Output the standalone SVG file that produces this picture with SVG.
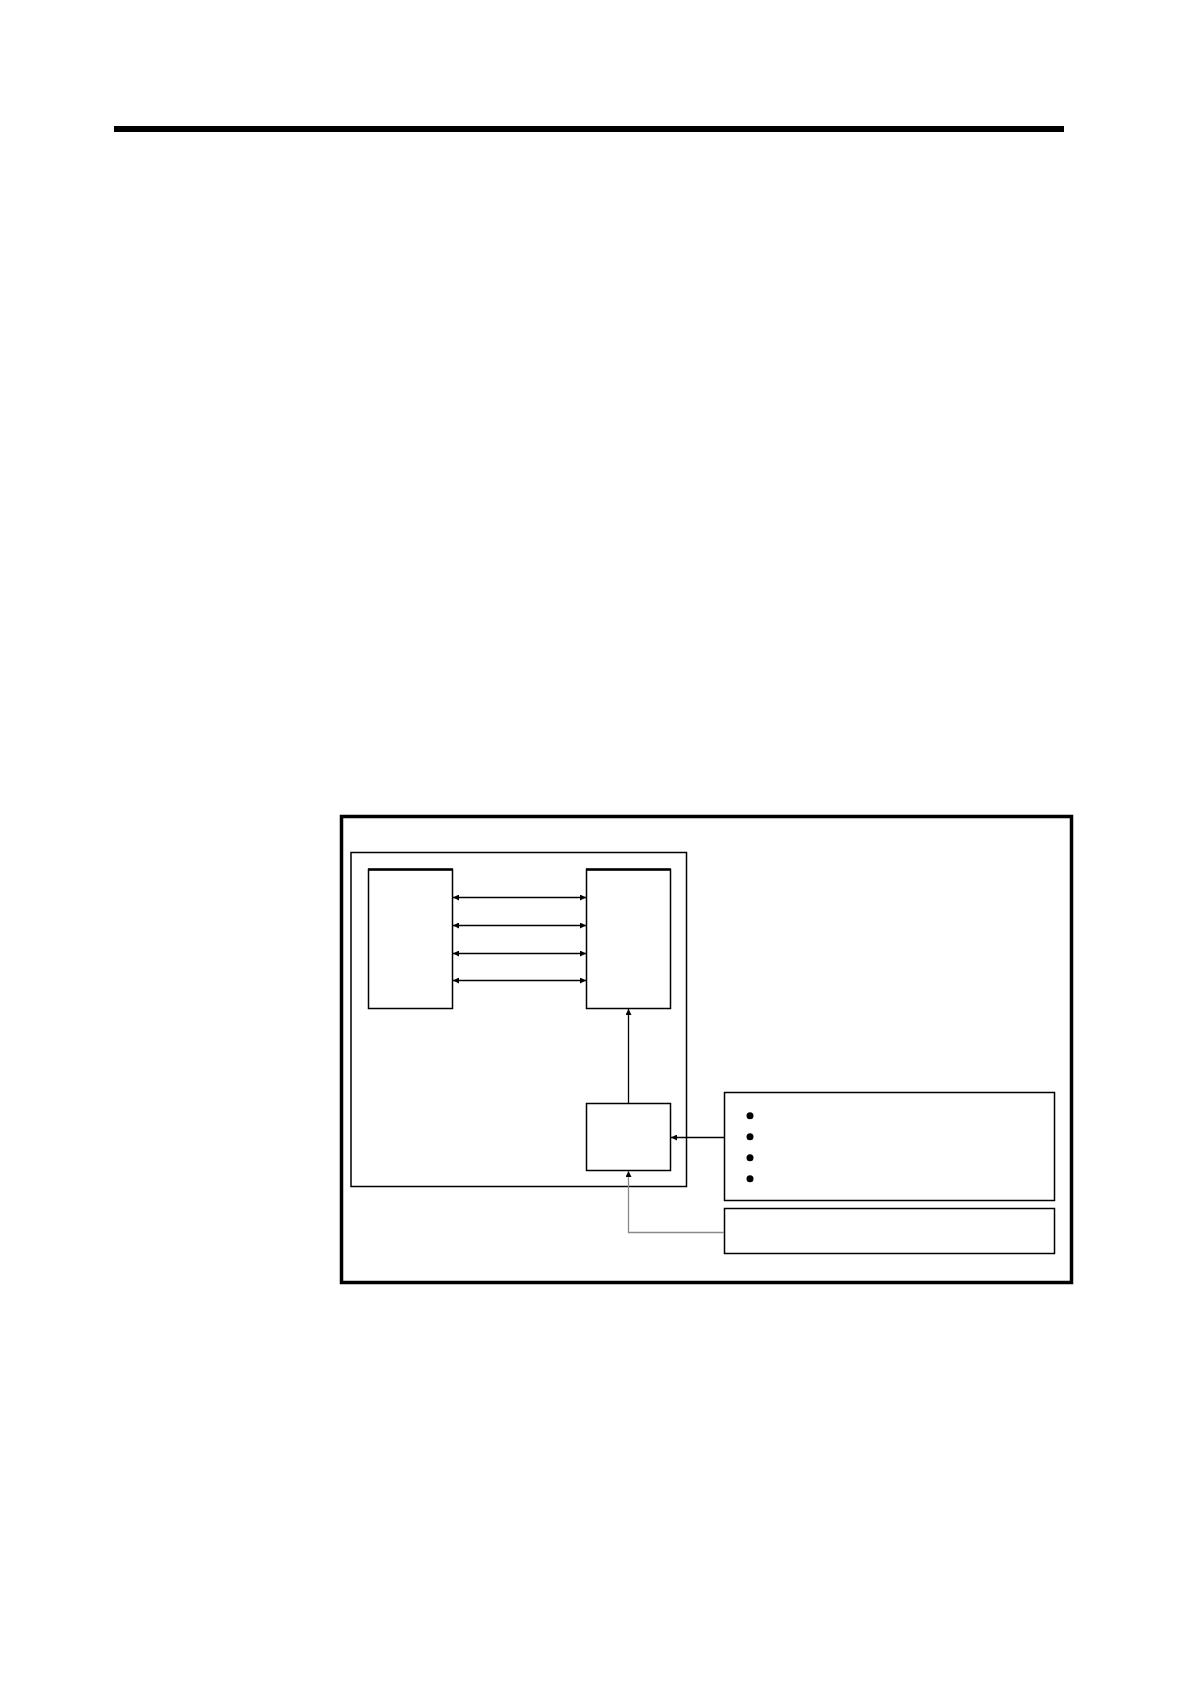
<svg xmlns="http://www.w3.org/2000/svg" width="1190" height="1684" viewBox="0 0 1190 1684">
<style>
.box{fill:#fff;stroke:#000;stroke-width:1.5}
.conn{fill:none;stroke:#000;stroke-width:1.3}
.grey{fill:none;stroke:#8a8a8a;stroke-width:1.3}
</style>
<defs>
<marker id="ah" viewBox="0 0 10 10" refX="10" refY="5" markerWidth="6" markerHeight="6" orient="auto-start-reverse" markerUnits="userSpaceOnUse">
<path d="M0,0 L10,5 L0,10 z" fill="#000"/>
</marker>
</defs>
<rect width="1190" height="1684" fill="#fff"/>
<line x1="114" y1="129" x2="1064" y2="129" stroke="#000" stroke-width="6"/>
<g id="outer"><rect x="341.5" y="816.5" width="730" height="466" fill="none" stroke="#000" stroke-width="3.5"/></g>
<g id="inner"><rect x="351" y="852.5" width="335.5" height="334" class="box"/></g>
<g id="blockA"><rect x="368.5" y="869.5" width="84" height="139" class="box"/><line x1="368" y1="869.5" x2="453" y2="869.5" stroke="#000" stroke-width="2.5"/></g>
<g id="blockB"><rect x="586.5" y="869.5" width="84" height="139" class="box"/><line x1="586" y1="869.5" x2="671" y2="869.5" stroke="#000" stroke-width="2.5"/></g>
<g id="blockC"><rect x="586.5" y="1103.5" width="84" height="67" class="box"/></g>
<g id="listBox"><rect x="724.5" y="1092.5" width="330" height="108" class="box"/>
<circle cx="750" cy="1115.7" r="3.5"/><circle cx="750" cy="1136.7" r="3.5"/><circle cx="750" cy="1157.7" r="3.5"/><circle cx="750" cy="1178.7" r="3.5"/></g>
<g id="bottomBox"><rect x="724.5" y="1208.5" width="330" height="45" class="box"/></g>
<g id="connectors">
<line x1="453" y1="897.5" x2="586" y2="897.5" class="conn" marker-start="url(#ah)" marker-end="url(#ah)"/>
<line x1="453" y1="925.5" x2="586" y2="925.5" class="conn" marker-start="url(#ah)" marker-end="url(#ah)"/>
<line x1="453" y1="953.5" x2="586" y2="953.5" class="conn" marker-start="url(#ah)" marker-end="url(#ah)"/>
<line x1="453" y1="980.5" x2="586" y2="980.5" class="conn" marker-start="url(#ah)" marker-end="url(#ah)"/>
<line x1="628.5" y1="1103" x2="628.5" y2="1009" class="conn" marker-end="url(#ah)"/>
<line x1="724" y1="1137.5" x2="671" y2="1137.5" class="conn" marker-end="url(#ah)"/>
<polyline points="724,1232.5 628.5,1232.5 628.5,1171" class="grey" marker-end="url(#ah)"/>
</g>
</svg>
